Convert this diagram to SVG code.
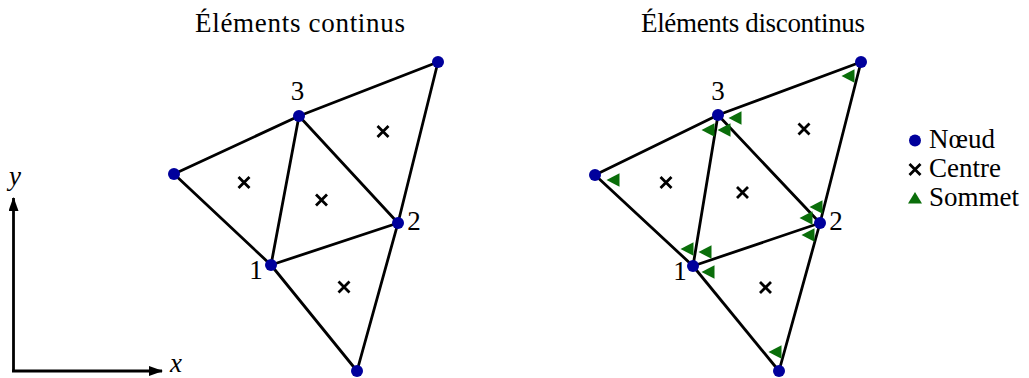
<svg xmlns="http://www.w3.org/2000/svg" xmlns:xlink="http://www.w3.org/1999/xlink" width="1029" height="378" viewBox="0 0 1029 378">
<style>
.t{font-family:"Liberation Serif","Times New Roman",serif;font-size:27px;fill:#000}
.i{font-style:italic}
.e{stroke:#000;stroke-width:2.8;stroke-linecap:round;fill:none}
.n{fill:#00009c}
.c{stroke:#000;stroke-width:2.8;fill:none}
.s{fill:#0a6e0a}
.ax{stroke:#000;stroke-width:2.8;fill:none}
</style>
<defs>
<path id="cr" class="c" d="M-5.5,-5.5L5.5,5.5M-5.5,5.5L5.5,-5.5"/>
<polygon id="tri" class="s" points="-6.5,0 6.5,-6.8 6.5,6.8"/>
<marker id="ah" viewBox="0 0 14 10" refX="13" refY="5" markerWidth="14" markerHeight="10" markerUnits="userSpaceOnUse" orient="auto">
<path d="M0,0L14,5L0,10Z" fill="#000"/>
</marker>
</defs>
<rect width="1029" height="378" fill="#fff"/>

<g id="titles">
<text class="t" x="300" y="32" text-anchor="middle" textLength="210" lengthAdjust="spacing">Éléments continus</text>
<text class="t" x="753" y="32" text-anchor="middle" textLength="224" lengthAdjust="spacing">Éléments discontinus</text>
</g>

<g id="axes">
<line class="ax" x1="13.5" y1="371" x2="13.5" y2="198" marker-end="url(#ah)"/>
<line class="ax" x1="12" y1="371" x2="162" y2="371" marker-end="url(#ah)"/>
<text class="t i" x="15" y="185" text-anchor="middle">y</text>
<text class="t i" x="176" y="372" text-anchor="middle">x</text>
</g>

<g id="connectors">
<line class="e" x1="174" y1="174" x2="299" y2="116"/>
<line class="e" x1="299" y1="116" x2="438" y2="62"/>
<line class="e" x1="438" y1="62" x2="398" y2="223"/>
<line class="e" x1="398" y1="223" x2="357" y2="371"/>
<line class="e" x1="357" y1="371" x2="271" y2="265"/>
<line class="e" x1="271" y1="265" x2="174" y2="174"/>
<line class="e" x1="299" y1="116" x2="271" y2="265"/>
<line class="e" x1="299" y1="116" x2="398" y2="223"/>
<line class="e" x1="271" y1="265" x2="398" y2="223"/>
<line class="e" x1="595" y1="175" x2="718" y2="115"/>
<line class="e" x1="718" y1="115" x2="861" y2="62"/>
<line class="e" x1="861" y1="62" x2="820" y2="223"/>
<line class="e" x1="820" y1="223" x2="779" y2="371"/>
<line class="e" x1="779" y1="371" x2="693" y2="266"/>
<line class="e" x1="693" y1="266" x2="595" y2="175"/>
<line class="e" x1="718" y1="115" x2="693" y2="266"/>
<line class="e" x1="718" y1="115" x2="820" y2="223"/>
<line class="e" x1="693" y1="266" x2="820" y2="223"/>
</g>

<g id="centres">
<use xlink:href="#cr" x="244" y="182.5"/>
<use xlink:href="#cr" x="321.5" y="200"/>
<use xlink:href="#cr" x="383" y="131.5"/>
<use xlink:href="#cr" x="344" y="287"/>
<use xlink:href="#cr" x="666" y="182.5"/>
<use xlink:href="#cr" x="742.5" y="192.5"/>
<use xlink:href="#cr" x="804" y="129"/>
<use xlink:href="#cr" x="765.5" y="287.5"/>
</g>

<g id="sommets">
<use xlink:href="#tri" x="613" y="180"/>
<use xlink:href="#tri" x="708" y="130"/>
<use xlink:href="#tri" x="724" y="130"/>
<use xlink:href="#tri" x="735" y="118"/>
<use xlink:href="#tri" x="848" y="76"/>
<use xlink:href="#tri" x="816" y="207"/>
<use xlink:href="#tri" x="806" y="218"/>
<use xlink:href="#tri" x="808" y="235"/>
<use xlink:href="#tri" x="687" y="249"/>
<use xlink:href="#tri" x="705" y="252"/>
<use xlink:href="#tri" x="708" y="272"/>
<use xlink:href="#tri" x="775" y="352"/>
</g>

<g id="node-left-L"><circle class="n" cx="174" cy="174" r="6"/></g>
<g id="node-left-3"><circle class="n" cx="299" cy="116" r="6"/><text class="t" x="297.5" y="100" text-anchor="middle">3</text></g>
<g id="node-left-T"><circle class="n" cx="438" cy="62" r="6"/></g>
<g id="node-left-2"><circle class="n" cx="398" cy="223" r="6"/><text class="t" x="414" y="230" text-anchor="middle">2</text></g>
<g id="node-left-1"><circle class="n" cx="271" cy="265" r="6"/><text class="t" x="256" y="279" text-anchor="middle">1</text></g>
<g id="node-left-B"><circle class="n" cx="357" cy="371" r="6"/></g>

<g id="node-right-L"><circle class="n" cx="595" cy="175" r="6"/></g>
<g id="node-right-3"><circle class="n" cx="718" cy="115" r="6"/><text class="t" x="718" y="100" text-anchor="middle">3</text></g>
<g id="node-right-T"><circle class="n" cx="861" cy="62" r="6"/></g>
<g id="node-right-2"><circle class="n" cx="820" cy="223" r="6"/><text class="t" x="836" y="230" text-anchor="middle">2</text></g>
<g id="node-right-1"><circle class="n" cx="693" cy="266" r="6"/><text class="t" x="680" y="280" text-anchor="middle">1</text></g>
<g id="node-right-B"><circle class="n" cx="779" cy="371" r="6"/></g>

<g id="legend">
<circle class="n" cx="915" cy="140.5" r="6"/>
<text class="t" x="929" y="148">Nœud</text>
<use xlink:href="#cr" x="915" y="169.5"/>
<text class="t" x="929" y="177">Centre</text>
<polygon class="s" points="908,203.5 922,203.5 915,192"/>
<text class="t" x="929" y="205.5">Sommet</text>
</g>
</svg>
